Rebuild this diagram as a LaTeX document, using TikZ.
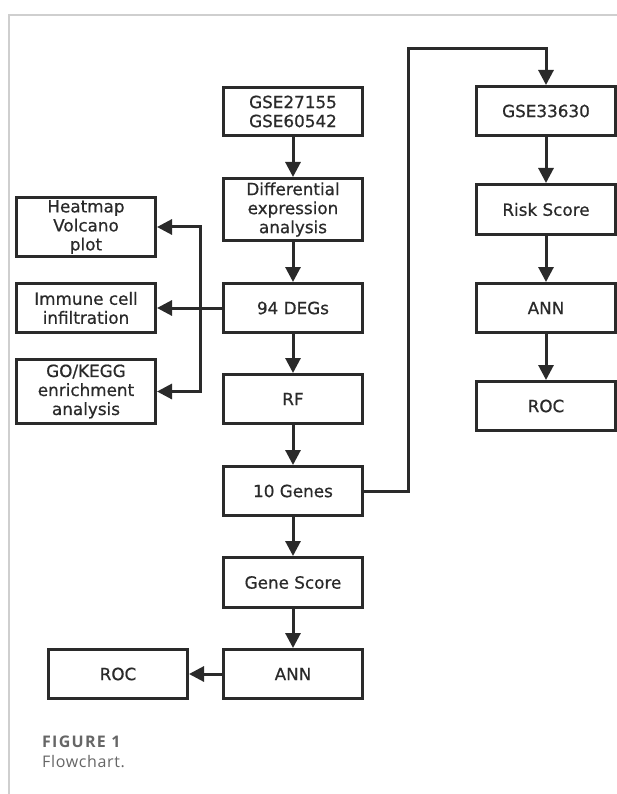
\documentclass[tikz,border=0pt]{standalone}
\usepackage{fontspec}
\setmainfont{DejaVu Sans}
\newfontfamily\boxfont{DejaVu Sans}[FakeBold=0.6]
\newfontfamily\capbold{Open Sans}[UprightFont=* Bold, LetterSpace=8]
\newfontfamily\capreg{Open Sans}[LetterSpace=4]
\usetikzlibrary{arrows.meta}
\definecolor{ink}{HTML}{2A2A2A}
\definecolor{framegray}{HTML}{CFCFCF}
\definecolor{capgray}{HTML}{666666}
\tikzset{
  box/.style={draw=ink, line width=3pt, rectangle, inner sep=0pt, align=center,
    minimum width=139pt, text=ink, font=\boxfont\fontsize{16.8}{19}\selectfont},
  arr/.style={draw=ink, line width=3pt, -{Triangle[length=15pt,width=15pt]}},
  captext/.style={anchor=base west, inner sep=0pt, text=capgray},
}
\begin{document}
\begin{tikzpicture}[x=1pt,y=-1pt]
\useasboundingbox (0,0) rectangle (617,794);
\fill[white] (0,0) rectangle (617,794);
\draw[framegray, line width=1.5pt] (8,15) -- (617,15);
\draw[framegray, line width=1.5pt] (9,15) -- (9,794);
% main column
\node[box, minimum height=48pt] (n1) at (293,111.5) {GSE27155\\GSE60542};
\node[box, minimum height=62pt] (n2) at (293,209.5) {Differential\\expression\\analysis};
\node[box, minimum height=49pt] (n3) at (293,308) {94 DEGs};
\node[box, minimum height=49pt] (n4) at (293,399) {RF};
\node[box, minimum height=49pt] (n5) at (293,491) {10 Genes};
\node[box, minimum height=50pt] (n6) at (293,582.5) {Gene Score};
\node[box, minimum height=49pt] (n7) at (293,674) {ANN};
\node[box, minimum height=49pt] (rocb) at (118,674) {ROC};
% left column
\node[box, minimum height=59pt] (l1) at (86,227) {Heatmap\\Volcano\\plot};
\node[box, minimum height=49pt] (l2) at (86,308) {Immune cell\\infiltration};
\node[box, minimum height=64pt] (l3) at (86,391.5) {GO/KEGG\\enrichment\\analysis};
% right column
\node[box, minimum height=49pt] (r1) at (546,111) {GSE33630};
\node[box, minimum height=50pt] (r2) at (546,209.5) {Risk Score};
\node[box, minimum height=49pt] (r3) at (546,308) {ANN};
\node[box, minimum height=49pt] (r4) at (546,406) {ROC};
% coordinates
\coordinate (bx) at (200,308);
\coordinate (lp) at (408,49);
% connectors
\draw[arr] (n1) -- (n2);
\draw[arr] (n2) -- (n3);
\draw[arr] (n3) -- (n4);
\draw[arr] (n4) -- (n5);
\draw[arr] (n5) -- (n6);
\draw[arr] (n6) -- (n7);
\draw[arr] (n7) -- (rocb);
\draw[arr] (n3.west) -- (l2.east);
\draw[arr] (bx) |- (l1.east);
\draw[arr] (bx) |- (l3.east);
\draw[arr] (n5.east) -| (lp) -| (r1.north);
\draw[arr] (r1) -- (r2);
\draw[arr] (r2) -- (r3);
\draw[arr] (r3) -- (r4);
% caption
\node[captext, font=\capbold\fontsize{16}{18}\selectfont] (fig) at (42,747) {FIGURE 1};
\node[captext, font=\capreg\fontsize{16}{18}\selectfont] (fc) at (42,767) {Flowchart.};
\end{tikzpicture}
\end{document}
